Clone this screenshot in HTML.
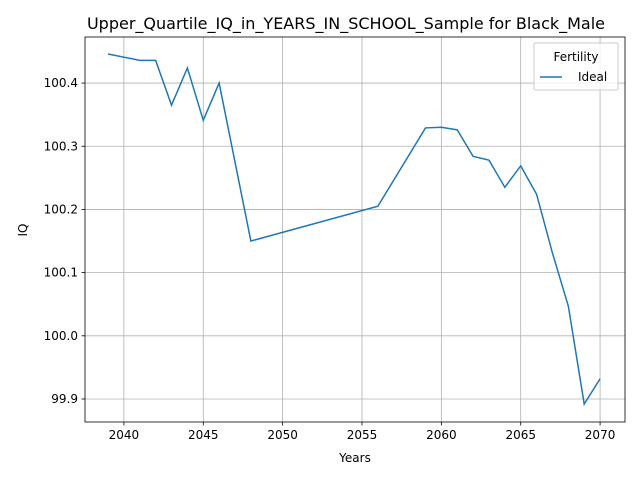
<!DOCTYPE html>
<html><head><meta charset="utf-8"><style>
body{margin:0;background:#fff;font-family:"Liberation Sans","DejaVu Sans",sans-serif}
</style></head><body>
<svg width="640" height="480" xmlns="http://www.w3.org/2000/svg" font-family="DejaVu Sans, Liberation Sans, sans-serif">
<rect width="640" height="480" fill="#fff"/>
<g id="grid"></g>
<g id="axes"></g>
<polyline id="line" fill="none" stroke="#1f77b4" stroke-width="1.5"/>
<rect x="85" y="37" width="540" height="385" fill="none" stroke="#000" stroke-width="0.8"/>
<text x="346" y="29" text-anchor="middle" font-size="16">Upper_Quartile_IQ_in_YEARS_IN_SCHOOL_Sample for Black_Male</text>
<text x="355" y="462" text-anchor="middle" font-size="12">Years</text>
<text x="27" y="230" text-anchor="middle" font-size="12" transform="rotate(-90 27 230)">IQ</text>
<g>
<rect x="534" y="43" width="84" height="47" rx="2" fill="#fff" fill-opacity="0.8" stroke="#ccc"/>
<text x="576" y="61" text-anchor="middle" font-size="12">Fertility</text>
<line x1="540" y1="77" x2="562" y2="77" stroke="#1f77b4" stroke-width="1.5"/>
<text x="578" y="81" font-size="12">Ideal</text>
</g>
</svg>
<script>
const years=[2039,2041,2042,2043,2044,2045,2046,2048,2056,2059,2060,2061,2062,2063,2064,2065,2066,2067,2068,2069,2070];
const iq=[100.446,100.436,100.436,100.365,100.424,100.341,100.400,100.150,100.205,100.329,100.330,100.326,100.284,100.278,100.235,100.269,100.224,100.131,100.047,99.892,99.932];
const xTicks=[2040,2045,2050,2055,2060,2065,2070];
const yTicks=[99.9,100.0,100.1,100.2,100.3,100.4];
const yLabels=["99.9","100.0","100.1","100.2","100.3","100.4"];
const X0=85,X1=625,Y0=422,Y1=37,xmin=2037.55,xmax=2071.57,ymin=99.8636,ymax=100.4729;
const sx=v=>X0+(v-xmin)/(xmax-xmin)*(X1-X0);
const sy=v=>Y0-(v-ymin)/(ymax-ymin)*(Y0-Y1);
const NS="http://www.w3.org/2000/svg";
const grid=document.getElementById('grid'),axes=document.getElementById('axes');
function mk(t,a,p){const e=document.createElementNS(NS,t);for(const k in a)e.setAttribute(k,a[k]);p.appendChild(e);return e;}
xTicks.forEach(t=>{const x=sx(t);
const g=mk('line',{x1:x,x2:x,y1:Y1,y2:Y0,stroke:'#b0b0b0','stroke-width':0.8},grid);


mk('line',{x1:x,x2:x,y1:Y0,y2:Y0+3.5,stroke:'#000','stroke-width':0.8},axes);
const l=mk('text',{x:x,y:Y0+17,'text-anchor':'middle','font-size':12},axes);l.textContent=t;

});
yTicks.forEach((t,i)=>{const y=sy(t);
const g=mk('line',{x1:X0,x2:X1,y1:y,y2:y,stroke:'#b0b0b0','stroke-width':0.8},grid);


mk('line',{x1:X0-3.5,x2:X0,y1:y,y2:y,stroke:'#000','stroke-width':0.8},axes);
const l=mk('text',{x:X0-7,y:y+4,'text-anchor':'end','font-size':12},axes);l.textContent=yLabels[i];

});
document.getElementById('line').setAttribute('points',years.map((y,i)=>sx(y)+','+sy(iq[i])).join(' '));
</script>
</body></html>
